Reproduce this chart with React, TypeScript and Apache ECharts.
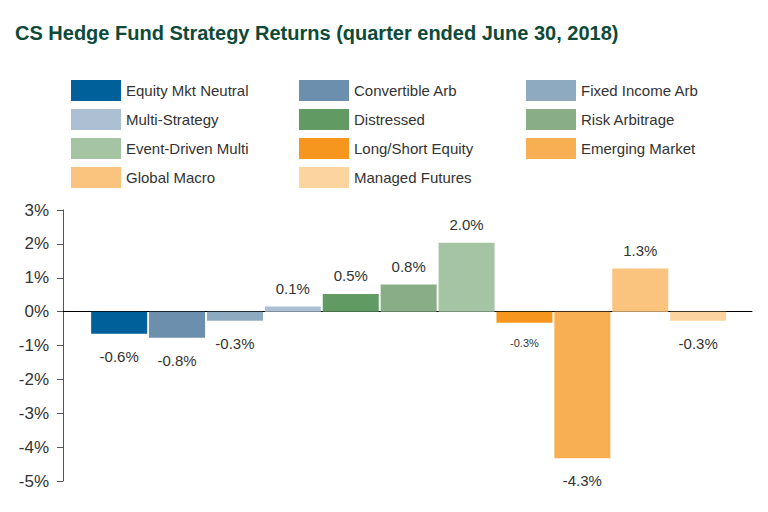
import React, { useEffect, useRef } from "react";
import * as echarts from "echarts";

const categories = [
  "Equity Mkt Neutral",
  "Convertible Arb",
  "Fixed Income Arb",
  "Multi-Strategy",
  "Distressed",
  "Risk Arbitrage",
  "Event-Driven Multi",
  "Long/Short Equity",
  "Emerging Market",
  "Global Macro",
  "Managed Futures",
];
const values = [-0.65, -0.77, -0.27, 0.15, 0.52, 0.8, 2.03, -0.33, -4.33, 1.27, -0.27];
const valueLabels = ["-0.6%", "-0.8%", "-0.3%", "0.1%", "0.5%", "0.8%", "2.0%", "-0.3%", "-4.3%", "1.3%", "-0.3%"];
const colors = [
  "#00609a", "#6b8fad", "#8eaac0", "#adc0d3", "#629a64", "#89ae87",
  "#a5c4a3", "#f7961f", "#f8ae52", "#fac47f", "#fbd49f",
];
const yTicks = [-5, -4, -3, -2, -1, 0, 1, 2, 3];

export default function App() {
  const ref = useRef<HTMLDivElement>(null);
  useEffect(() => {
    if (!ref.current) return;
    const chart = echarts.init(ref.current, null, { renderer: "svg" });
    const series = categories.map((name, i) => ({
      name,
      type: "bar",
      barWidth: 56,
      barGap: "-100%",
      itemStyle: { color: colors[i] },
      label: {
        show: true,
        position: values[i] >= 0 ? "top" : "bottom",
        distance: values[i] >= 0 ? 11 : 15,
        formatter: () => valueLabels[i],
        fontFamily: "Liberation Sans, Arial, sans-serif",
        fontSize: i === 7 ? 11 : 15,
        color: "#333333",
      },
      data: [[i, values[i]]],
    }));
    const legendCommon = {
      orient: "vertical",
      itemWidth: 50,
      itemHeight: 21,
      itemGap: 8,
      icon: "rect",
      selectedMode: false,
      textStyle: {
        fontFamily: "Liberation Sans, Arial, sans-serif",
        fontSize: 15,
        color: "#333333",
        padding: [0, 0, 0, 0],
      },
      padding: 0,
      top: 80,
    };
    chart.setOption({
      animation: false,
      title: {
        text: "CS Hedge Fund Strategy Returns (quarter ended June 30, 2018)",
        left: 10,
        top: 18,
        textStyle: {
          fontFamily: "Liberation Sans, Arial, sans-serif",
          fontSize: 20,
          fontWeight: "bold",
          color: "#0d4a3a",
        },
      },
      legend: [
        { ...legendCommon, left: 71, data: [0, 3, 6, 9].map((i) => categories[i]) },
        { ...legendCommon, left: 299, data: [1, 4, 7, 10].map((i) => categories[i]) },
        { ...legendCommon, left: 526, data: [2, 5, 8].map((i) => categories[i]) },
      ],
      grid: { left: 63, right: 16, top: 210, bottom: 31 },
      xAxis: {
        type: "value",
        min: -0.97,
        max: 10.93,
        axisLine: { show: true, onZero: true, lineStyle: { color: "#000000", width: 1 } },
        axisTick: { show: false },
        axisLabel: { show: false },
        splitLine: { show: false },
      },
      yAxis: {
        type: "value",
        min: yTicks[0],
        max: yTicks[yTicks.length - 1],
        interval: 1,
        axisLine: { show: true, onZero: false, lineStyle: { color: "#555555" } },
        axisTick: { show: true, length: 6, lineStyle: { color: "#555555" } },
        splitLine: { show: false },
        axisLabel: {
          formatter: (v: number) => `${v}%`,
          fontFamily: "Liberation Sans, Arial, sans-serif",
          fontSize: 17,
          color: "#333333",
          margin: 14,
        },
      },
      series,
    });
    return () => chart.dispose();
  }, []);
  return <div ref={ref} style={{ width: 768, height: 512, position: "absolute", left: 0, top: 0 }} />;
}
